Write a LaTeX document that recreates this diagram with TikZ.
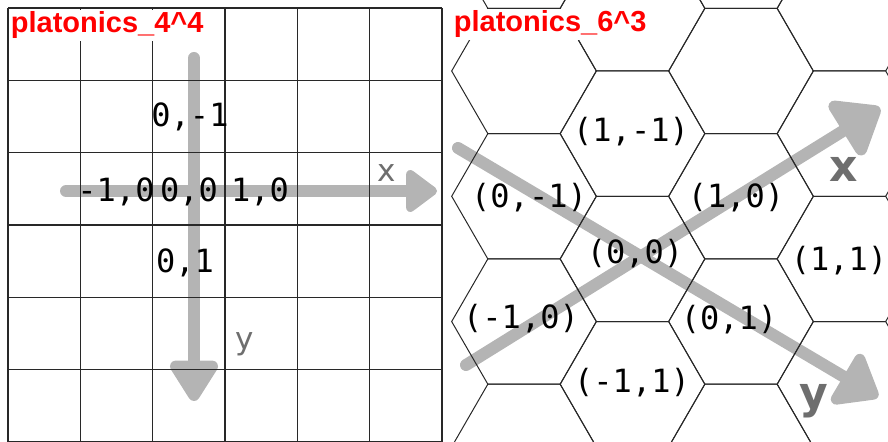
\documentclass[tikz,border=0pt]{standalone}
\usepackage{fontspec}
\newfontfamily\coordfont{DejaVu Sans Mono}
\newfontfamily\axisfont{DejaVu Sans}
\newfontfamily\titlefont{Liberation Sans}
\usetikzlibrary{arrows.meta}
\definecolor{axisgray}{RGB}{180,180,180}
\definecolor{axislbl}{RGB}{110,110,110}
\definecolor{gridline}{RGB}{40,40,40}
\definecolor{titlered}{RGB}{255,0,0}

\begin{document}
\begin{tikzpicture}[x=0.5pt,y=-0.5pt,
  gridln/.style={draw=gridline,line width=0.6pt},
  hexln/.style={draw=gridline,line width=0.5pt},
  axis/.style={draw=axisgray,line width=6pt,line cap=round},
  coord/.style={font=\coordfont\fontsize{16}{16}\selectfont,anchor=base,inner sep=0pt},
  axlbl/.style={text=axislbl,anchor=base,inner sep=0pt},
  ttl/.style={font=\titlefont\bfseries\fontsize{14.5}{14.5}\selectfont,text=titlered,
              fill=white,anchor=base west,inner xsep=0.5pt,inner ysep=1pt}]
\useasboundingbox (0,0) rectangle (888,442);
% square tiling
\coordinate (hx0) at (66,191);  \coordinate (hx1) at (437,191);
\coordinate (vy0) at (194,58);  \coordinate (vy1) at (194,401);
\draw[axis,-{Triangle[round,length=17pt,width=24pt]}] (hx0) -- (hx1);
\draw[axis,-{Triangle[round,length=23pt,width=27pt]}] (vy0) -- (vy1);
\foreach \k in {0,...,6} {
  \draw[gridln] (8+72.33*\k,8) -- (8+72.33*\k,442);
  \draw[gridln] (8,8+72.33*\k) -- (442,8+72.33*\k);
}
\node[coord] (s0m1) at (190,127) {0,-1};
\node[coord] (sm10) at (116,202) {-1,0};
\node[coord] (s00) at (189,202) {0,0};
\node[coord] (s10) at (260,202) {1,0};
\node[coord] (s01) at (185,273) {0,1};
\node[axlbl,font=\axisfont\fontsize{15.5}{15.5}\selectfont] (sx) at (387,182) {x};
\node[axlbl,font=\axisfont\fontsize{15.5}{15.5}\selectfont] (sy) at (245,350) {y};
\node[ttl] (t44) at (9.5,33) {platonics\_4\textasciicircum4};
% hexagonal tiling
\coordinate (ax0) at (466,365); \coordinate (ax1) at (880,108);
\coordinate (ay0) at (458,148); \coordinate (ay1) at (878,397);
\draw[axis,-{Triangle[round,length=24pt,width=36pt]}] (ax0) -- (ax1);
\draw[axis,-{Triangle[round,length=22pt,width=33pt]}] (ay0) -- (ay1);
\foreach \i in {0,...,3} {
  \foreach \j in {-1,...,4} {
    \pgfmathsetmacro\hx{524+108.5*\i}
    \pgfmathsetmacro\hy{71-62.64*mod(\i,2)+125.28*\j}
    \draw[hexln] (\hx+72.33,\hy) -- ++(120:72.33) -- ++(180:72.33) -- ++(240:72.33)
      -- ++(300:72.33) -- ++(0:72.33) -- cycle;
  }
}
\node[coord] (h1m1) at (631,142) {(1,-1)};
\node[coord] (h0m1) at (529,208) {(0,-1)};
\node[coord] (h10) at (736,208) {(1,0)};
\node[coord] (h00) at (635,264) {(0,0)};
\node[coord] (h11) at (839,271) {(1,1)};
\node[coord] (hm10) at (521,329) {(-1,0)};
\node[coord] (h01) at (729,330) {(0,1)};
\node[coord] (hm11) at (632,393) {(-1,1)};
\node[axlbl,font=\axisfont\bfseries\fontsize{22}{22}\selectfont] (hxl) at (843.5,182) {x};
\node[axlbl,font=\axisfont\bfseries\fontsize{22}{22}\selectfont] (hyl) at (814,409) {y};
\node[ttl] (t63) at (452.5,32) {platonics\_6\textasciicircum3};
\end{tikzpicture}
\end{document}
